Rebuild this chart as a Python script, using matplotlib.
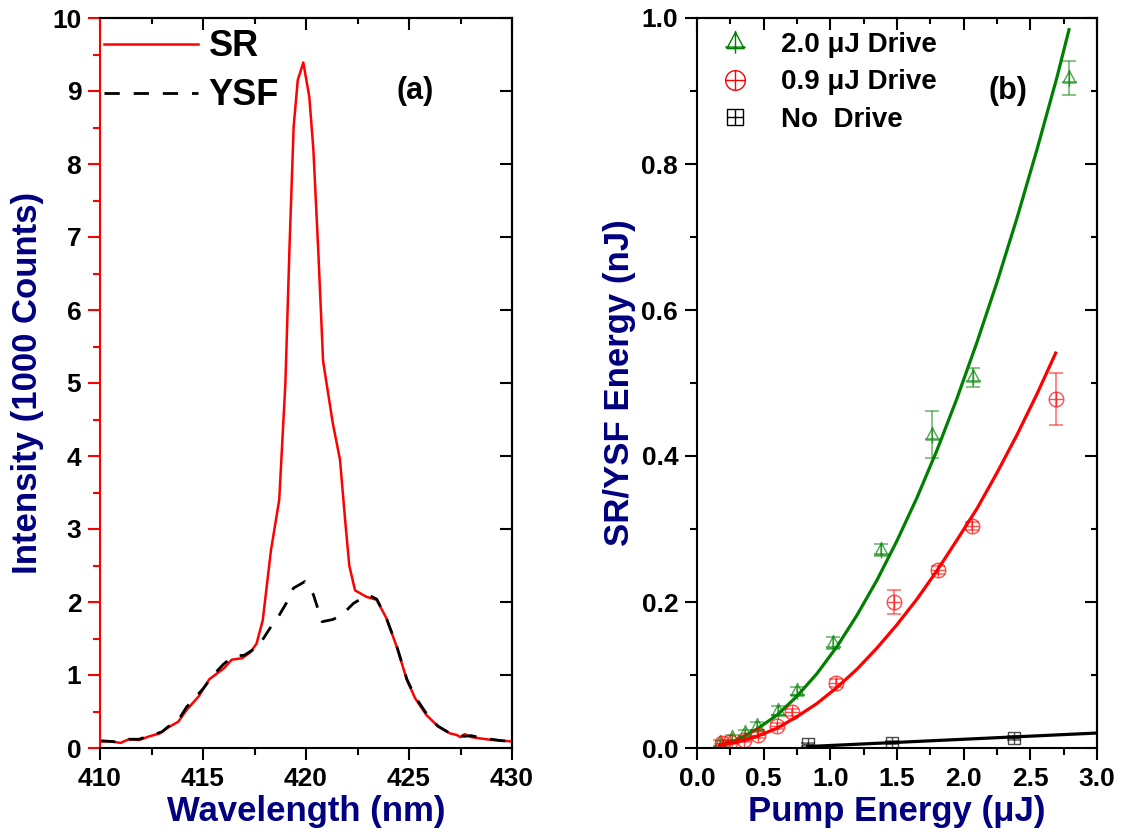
import matplotlib
matplotlib.use("Agg")
import matplotlib.pyplot as plt
from matplotlib.path import Path
from matplotlib.lines import Line2D
from matplotlib.ticker import MultipleLocator, NullFormatter, NullLocator

plt.rcParams['font.family'] = ['Liberation Sans', 'DejaVu Sans']
plt.rcParams['font.weight'] = 'bold'
plt.rcParams['axes.labelweight'] = 'bold'

NAVY = '#000080'

# (a) spectra, intensity in 1000 counts
wl_sr = [410.0, 410.5, 411.0, 411.4, 411.9, 412.4, 412.9, 413.3, 413.8, 414.2, 414.8,
         415.3, 416.0, 416.4, 416.9, 417.3, 417.6, 417.9, 418.3, 418.7, 419.0, 419.2,
         419.4, 419.6, 419.87, 420.16, 420.36, 420.6, 420.83, 421.3, 421.65, 421.9,
         422.1, 422.38, 422.94, 423.43, 423.9, 424.4, 424.9, 425.3, 425.85, 426.4,
         426.99, 427.3, 427.5, 427.7, 428.0, 428.5, 429.0, 429.5, 430.0]
sr = [0.09, 0.09, 0.07, 0.12, 0.11, 0.16, 0.20, 0.28, 0.36, 0.52, 0.71,
      0.94, 1.09, 1.21, 1.23, 1.31, 1.43, 1.75, 2.71, 3.40, 5.00, 6.87,
      8.51, 9.15, 9.39, 8.92, 8.19, 6.78, 5.30, 4.45, 3.95, 3.12,
      2.50, 2.16, 2.07, 2.03, 1.78, 1.39, 0.93, 0.68, 0.45, 0.30,
      0.20, 0.18, 0.15, 0.19, 0.15, 0.13, 0.11, 0.10, 0.09]

wl_ysf = [410.0, 410.5, 411.0, 411.4, 411.9, 412.4, 413.0, 413.3, 413.8, 414.2, 415.0,
          415.5, 416.0, 416.5, 417.0, 417.28, 417.68, 418.25, 418.66, 419.14, 419.39,
          419.95, 420.36, 420.78, 421.3, 421.73, 422.3, 423.0, 423.43, 423.9, 424.4,
          424.9, 425.3, 425.85, 426.4, 426.99, 427.3, 427.7, 428.0, 428.5, 429.0,
          429.5, 430.0]
ysf = [0.10, 0.09, 0.08, 0.12, 0.12, 0.17, 0.22, 0.29, 0.38, 0.56, 0.81,
       1.00, 1.15, 1.26, 1.27, 1.32, 1.39, 1.64, 1.80, 2.03, 2.19,
       2.28, 2.10, 1.73, 1.76, 1.82, 1.98, 2.10, 2.04, 1.78, 1.40,
       0.94, 0.70, 0.47, 0.30, 0.20, 0.17, 0.16, 0.17, 0.14, 0.12,
       0.10, 0.09]

# (b) SR/YSF energy (nJ) vs pump energy (uJ)
pump_20 = [0.17, 0.26, 0.36, 0.45, 0.61, 0.75, 1.02, 1.38, 1.76, 2.07, 2.79]
e_20 = [0.007, 0.014, 0.021, 0.030, 0.051, 0.078, 0.144, 0.271, 0.429, 0.508, 0.918]
err_20 = [0.004, 0.004, 0.004, 0.005, 0.006, 0.006, 0.008, 0.008, 0.032, 0.013, 0.023]

pump_09 = [0.19, 0.25, 0.35, 0.46, 0.60, 0.71, 1.04, 1.48, 1.81, 2.06, 2.69]
e_09 = [0.007, 0.008, 0.011, 0.018, 0.030, 0.049, 0.089, 0.200, 0.244, 0.304, 0.478]
err_09 = [0.003, 0.003, 0.003, 0.004, 0.004, 0.005, 0.005, 0.016, 0.006, 0.005, 0.036]

pump_00 = [0.83, 1.46, 2.38]
e_00 = [0.005, 0.007, 0.014]
err_00 = [0.002, 0.002, 0.003]

# fitted curves
fitx_20 = [0.17, 0.3, 0.45, 0.6, 0.75, 0.9, 1.05, 1.2, 1.35, 1.5, 1.65, 1.8, 1.95,
           2.1, 2.25, 2.4, 2.55, 2.7, 2.79]
fity_20 = [0.004, 0.011, 0.026, 0.045, 0.071, 0.102, 0.139, 0.182, 0.230, 0.284,
           0.343, 0.408, 0.479, 0.556, 0.638, 0.726, 0.820, 0.919, 0.984]
fitx_09 = [0.17, 0.3, 0.45, 0.6, 0.75, 0.9, 1.05, 1.2, 1.35, 1.5, 1.65, 1.8, 1.95,
           2.1, 2.25, 2.4, 2.55, 2.69]
fity_09 = [0.004, 0.008, 0.016, 0.027, 0.043, 0.061, 0.083, 0.108, 0.137, 0.169,
           0.204, 0.243, 0.285, 0.328, 0.377, 0.429, 0.485, 0.541]
fitx_00 = [0.83, 3.0]
fity_00 = [0.002, 0.0205]

labels_b = ['2.0 \u03bcJ Drive', '0.9 \u03bcJ Drive', 'No  Drive']


def crossed(verts, codes):
    """Outline marker with a '+' through it (Origin style)."""
    return Path(list(verts) + [(-1, 0), (1, 0), (0, -1), (0, 1)],
                list(codes) + [Path.MOVETO, Path.LINETO, Path.MOVETO, Path.LINETO])


circ = Path.unit_circle()
m_circle = crossed(circ.vertices, circ.codes)
m_square = crossed([(-1, -1), (1, -1), (1, 1), (-1, 1), (-1, -1)],
                   [Path.MOVETO, Path.LINETO, Path.LINETO, Path.LINETO, Path.CLOSEPOLY])
m_triangle = Path([(0, 1.0), (-0.85, -0.6), (0.85, -0.6), (0, 1.0),
                   (0, 1.15), (0, -1.1), (-1.0, -0.45), (1.0, -0.45)],
                  [Path.MOVETO, Path.LINETO, Path.LINETO, Path.CLOSEPOLY,
                   Path.MOVETO, Path.LINETO, Path.MOVETO, Path.LINETO])


def frame(ax, xmaj, xmin, ymaj, ymin, right_minor=True):
    for s in ax.spines.values():
        s.set_linewidth(1.5)
    ax.xaxis.set_major_locator(MultipleLocator(xmaj))
    ax.xaxis.set_minor_locator(MultipleLocator(xmin))
    ax.yaxis.set_major_locator(MultipleLocator(ymaj))
    ax.yaxis.set_minor_locator(MultipleLocator(ymin))
    ax.tick_params(which='both', direction='out', top=False, right=False,
                   width=1.5, labelsize=19, pad=5)
    ax.tick_params(which='major', length=8.5)
    ax.tick_params(which='minor', length=5)
    # inward ticks on top and right
    top = ax.secondary_xaxis('top')
    top.xaxis.set_major_locator(MultipleLocator(xmaj))
    top.xaxis.set_minor_locator(MultipleLocator(xmin))
    top.xaxis.set_major_formatter(NullFormatter())
    top.tick_params(which='both', direction='in', width=1.5)
    top.tick_params(which='major', length=8.5)
    top.tick_params(which='minor', length=4.5)
    rgt = ax.secondary_yaxis('right')
    rgt.yaxis.set_major_locator(MultipleLocator(ymaj))
    if right_minor:
        rgt.yaxis.set_minor_locator(MultipleLocator(ymin))
    else:
        rgt.yaxis.set_minor_locator(NullLocator())
    rgt.yaxis.set_major_formatter(NullFormatter())
    rgt.tick_params(which='both', direction='in', width=1.5)
    rgt.tick_params(which='major', length=8.5)
    rgt.tick_params(which='minor', length=4.5)
    for sec, hide in ((top, 'bottom'), (rgt, 'left')):
        sec.spines[hide].set_visible(False)
        for s in sec.spines.values():
            s.set_linewidth(1.5)


fig = plt.figure(figsize=(11.25, 8.34), dpi=100)
ax_a = fig.add_axes([100 / 1125, 86 / 834, 412 / 1125, 730 / 834])
ax_b = fig.add_axes([697 / 1125, 86 / 834, 400 / 1125, 730 / 834])

# ---- panel (a)
ax_a.plot(wl_sr, sr, color='red', lw=1.8, label='SR')
ax_a.plot(wl_ysf, ysf, color='black', lw=2.0, dashes=(5.5, 5), label='YSF')
ax_a.set_xlim(410, 430)
ax_a.set_ylim(0, 10)
frame(ax_a, 5, 2.5, 1, 0.5, right_minor=False)
ax_a.spines['left'].set_color('red')
ax_a.tick_params(axis='y', which='both', color='red', labelcolor='black')
ax_a.set_xlabel('Wavelength (nm)', color=NAVY, fontsize=25, labelpad=3)
ax_a.set_ylabel('Intensity (1000 Counts)', color=NAVY, fontsize=25, labelpad=6)
ax_a.legend(loc='upper left', bbox_to_anchor=(-0.004, 0.992), frameon=False, fontsize=26,
            borderaxespad=0, borderpad=0.15, handlelength=2.6, handletextpad=0.3,
            labelspacing=0.39)
ax_a.text(425.3, 9.0, '(a)', fontsize=22, ha='center', va='center')

# ---- panel (b)
series = [
    (pump_20, e_20, err_20, fitx_20, fity_20, '#008000', m_triangle, 12.5),
    (pump_09, e_09, err_09, fitx_09, fity_09, 'red', m_circle, 10.5),
    (pump_00, e_00, err_00, fitx_00, fity_00, 'black', m_square, 9),
]
handles = []
for x, y, err, fx, fy, col, mk, ms in series:
    ax_b.errorbar(x, y, yerr=err, fmt='none', ecolor=col, alpha=0.55,
                  elinewidth=1.2, capsize=5, capthick=1.2)
    ax_b.plot(x, y, ls='none', marker=mk, ms=ms, mfc='none', mec=col, mew=1.0,
              alpha=0.7)
    ax_b.plot(fx, fy, color=col, lw=2.3)
    handles.append(Line2D([], [], ls='none', marker=mk, ms=ms * 1.35, mfc='none',
                          mec=col, mew=1.0))

ax_b.set_xlim(0, 3.0)
ax_b.set_ylim(0, 1.0)
frame(ax_b, 0.5, 0.25, 0.2, 0.1)
ax_b.xaxis.set_major_formatter(plt.FormatStrFormatter('%.1f'))
ax_b.yaxis.set_major_formatter(plt.FormatStrFormatter('%.1f'))
ax_b.set_xlabel('Pump Energy (\u03bcJ)', color=NAVY, fontsize=25, labelpad=3)
ax_b.set_ylabel('SR/YSF Energy (nJ)', color=NAVY, fontsize=25, labelpad=4)
ax_b.legend(handles, labels_b, loc='upper left', bbox_to_anchor=(0.03, 0.989),
            frameon=False, fontsize=20, borderaxespad=0, borderpad=0.2,
            handlelength=1.5, handletextpad=0.9, labelspacing=0.42)
ax_b.text(2.33, 0.90, '(b)', fontsize=22, ha='center', va='center')

fig.savefig('out.png', dpi=100)
